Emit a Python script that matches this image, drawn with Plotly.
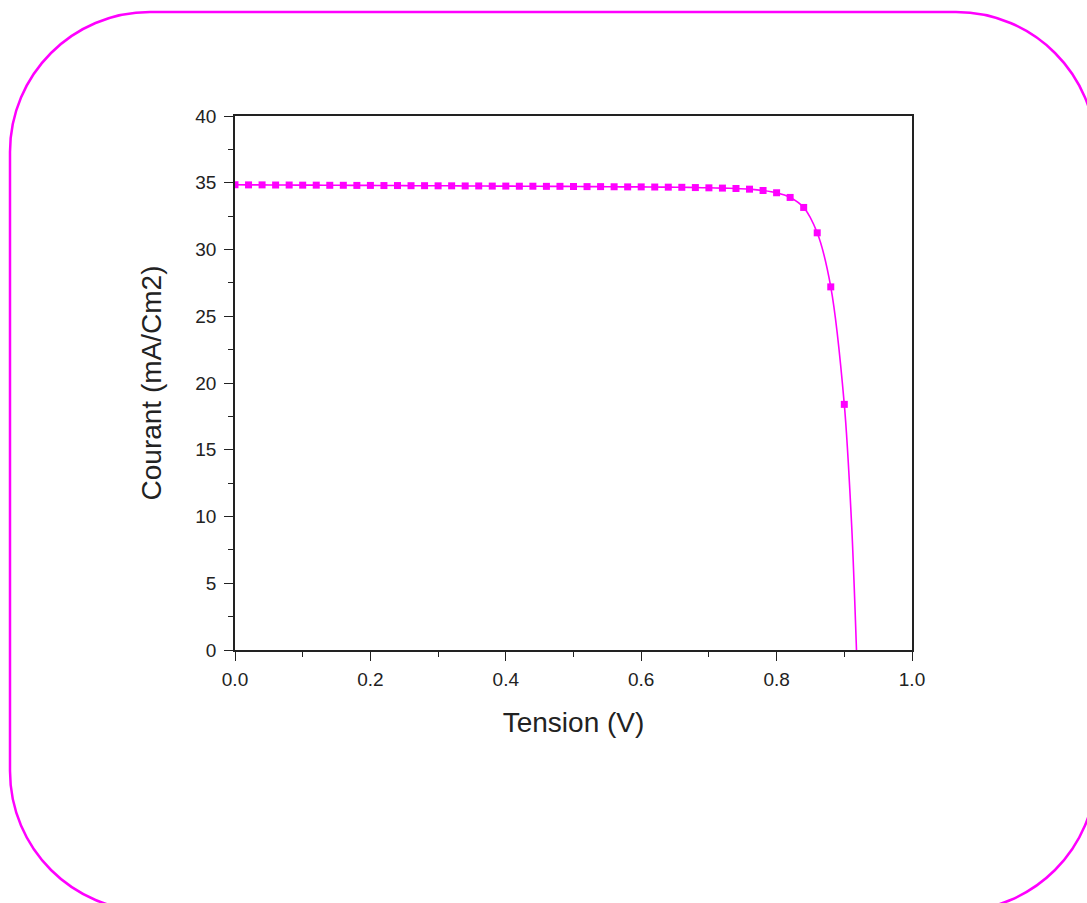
import plotly.graph_objects as go

# ---- data ----
tension = [0.00, 0.02, 0.04, 0.06, 0.08, 0.10, 0.12, 0.14, 0.16, 0.18,
           0.20, 0.22, 0.24, 0.26, 0.28, 0.30, 0.32, 0.34, 0.36, 0.38,
           0.40, 0.42, 0.44, 0.46, 0.48, 0.50, 0.52, 0.54, 0.56, 0.58,
           0.60, 0.62, 0.64, 0.66, 0.68, 0.70, 0.72, 0.74, 0.76, 0.78,
           0.80, 0.82, 0.84, 0.86, 0.88, 0.90]
courant = [34.85, 34.84, 34.84, 34.83, 34.83, 34.82, 34.82, 34.81, 34.81, 34.80,
           34.80, 34.79, 34.79, 34.78, 34.78, 34.77, 34.77, 34.76, 34.76, 34.75,
           34.75, 34.74, 34.74, 34.73, 34.73, 34.72, 34.71, 34.71, 34.70, 34.69,
           34.69, 34.68, 34.67, 34.66, 34.64, 34.62, 34.60, 34.57, 34.52, 34.42,
           34.25, 33.90, 33.15, 31.25, 27.20, 18.40]
# tail of the fitted curve (line only, no markers)
tension_tail = [0.911, 0.918]
courant_tail = [9.2, 0.0]

x_ticks = [0.0, 0.2, 0.4, 0.6, 0.8, 1.0]
x_ticklabels = ["0.0", "0.2", "0.4", "0.6", "0.8", "1.0"]
y_ticks = [0, 5, 10, 15, 20, 25, 30, 35, 40]

MAG = "#FF00FF"
W, H = 1087, 903
L_, R_, T_, B_ = 235, 912, 116, 650

fig = go.Figure()
fig.add_trace(go.Scatter(
    x=tension + tension_tail, y=courant + courant_tail,
    mode="lines", line=dict(color=MAG, width=1.6, shape="spline", smoothing=0.8),
    hoverinfo="skip", showlegend=False))
fig.add_trace(go.Scatter(
    x=tension, y=courant, mode="markers",
    marker=dict(color=MAG, size=7, symbol="square"),
    showlegend=False))

# rounded frame around the whole figure (pixel -> paper conversion)
def pp(px, py):
    return (px - L_) / (R_ - L_), (B_ - py) / (B_ - T_)

fl, ft, fr, fb, rr = 10, 12, 1096, 911, 140
k = 0.5523 * rr
def P(px, py):
    x, y = pp(px, py)
    return f"{x:.5f},{y:.5f}"
path = (f"M {P(fl+rr, ft)} L {P(fr-rr, ft)} "
        f"C {P(fr-rr+k, ft)} {P(fr, ft+rr-k)} {P(fr, ft+rr)} "
        f"L {P(fr, fb-rr)} "
        f"C {P(fr, fb-rr+k)} {P(fr-rr+k, fb)} {P(fr-rr, fb)} "
        f"L {P(fl+rr, fb)} "
        f"C {P(fl+rr-k, fb)} {P(fl, fb-rr+k)} {P(fl, fb-rr)} "
        f"L {P(fl, ft+rr)} "
        f"C {P(fl, ft+rr-k)} {P(fl+rr-k, ft)} {P(fl+rr, ft)} Z")
fig.add_shape(type="path", path=path, xref="paper", yref="paper",
              line=dict(color=MAG, width=2.5), layer="above")

font_fam = "Liberation Sans, Arial, sans-serif"
axis_common = dict(
    showline=True, linecolor="#222222", linewidth=1.5, mirror=True,
    ticks="outside", ticklen=9, tickwidth=1.3, tickcolor="#222222",
    showgrid=False, zeroline=False,
    tickfont=dict(family=font_fam, size=19, color="#222222"),
)
fig.update_xaxes(
    range=[0, 1], tickvals=x_ticks, ticktext=x_ticklabels, ticklabelstandoff=2,
    minor=dict(dtick=0.1, tick0=0, ticks="outside", ticklen=5, tickwidth=1.3, tickcolor="#222222"),
    title=dict(text="Tension (V)", font=dict(family=font_fam, size=28, color="#222222"), standoff=24),
    **axis_common)
fig.update_yaxes(
    range=[0, 40], tickvals=y_ticks, ticklabelstandoff=4,
    minor=dict(dtick=2.5, tick0=0, ticks="outside", ticklen=5, tickwidth=1.3, tickcolor="#222222"),
    title=dict(text="Courant (mA/Cm2)", font=dict(family=font_fam, size=28, color="#222222"), standoff=26),
    **axis_common)

fig.update_layout(
    width=W, height=H,
    margin=dict(l=L_, r=W - R_, t=T_, b=H - B_),
    paper_bgcolor="white", plot_bgcolor="white",
    showlegend=False,
)
fig.write_html("out.html")
